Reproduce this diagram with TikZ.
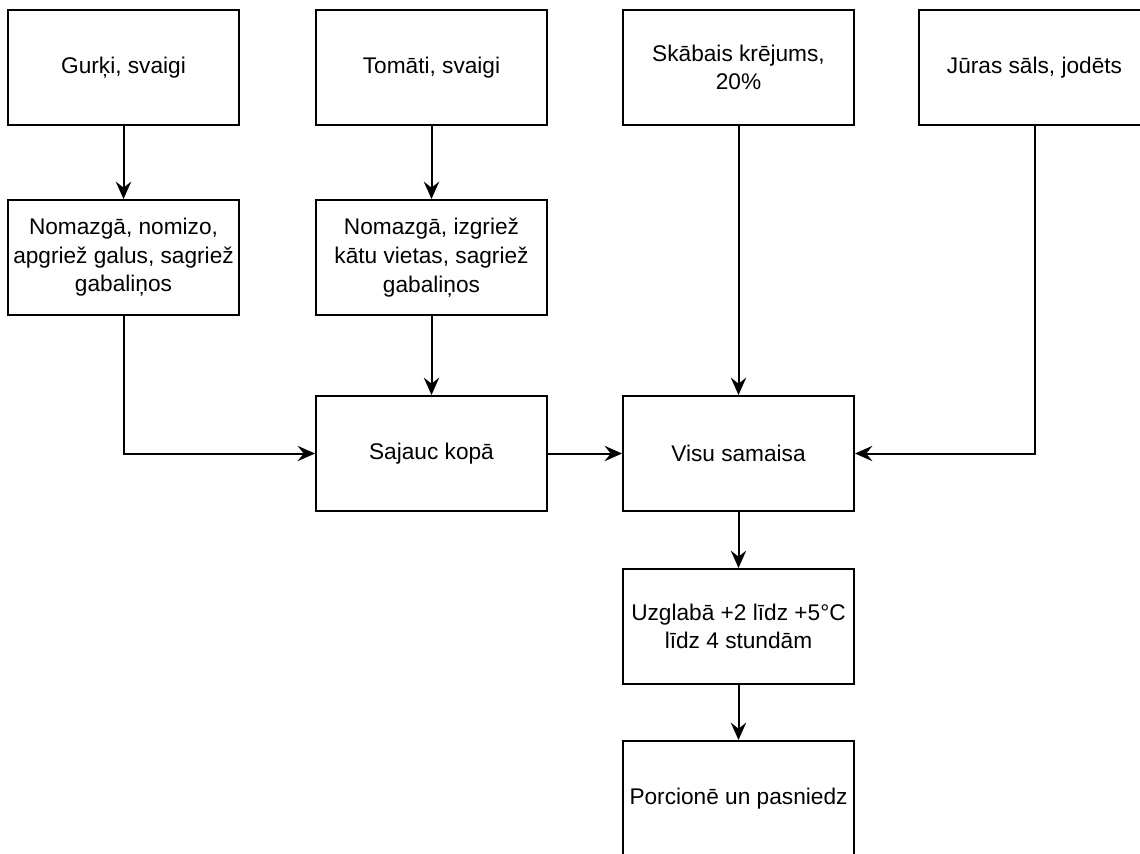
\documentclass[tikz,border=0pt]{standalone}
\usepackage{fontspec}
\setmainfont{Liberation Sans}
\usetikzlibrary{arrows.meta}
\begin{document}
\begin{tikzpicture}[x=0.75pt,y=-0.75pt,
  procbox/.style={draw=black, line width=1.5pt, fill=white, rectangle,
    minimum width=173.25pt, minimum height=86.25pt, inner sep=0pt,
    align=center, font=\fontsize{17}{21.5}\selectfont},
  flow/.style={draw=black, line width=1.5pt,
    -{Stealth[length=13pt, width=11.5pt, inset=4.5pt]}}]
  \useasboundingbox (0,0) rectangle (1140,854);
  \clip (0,0) rectangle (1140,854);
  \fill[white] (0,0) rectangle (1140,854);

  % raw ingredients
  \node[procbox] (gurki)  at (123.5,67.5)  {Gurķi, svaigi};
  \node[procbox] (tomati) at (431.5,67.5)  {Tomāti, svaigi};
  \node[procbox] (krej)   at (738.5,67.5)  {Skābais krējums,\\20\%};
  \node[procbox] (sals)   at (1034.5,67.5) {Jūras sāls, jodēts};

  % preparation
  \node[procbox] (gprep)  at (123.5,257.5) {Nomazgā, nomizo,\\apgriež galus, sagriež\\gabaliņos};
  \node[procbox] (tprep)  at (431.5,257.5) {Nomazgā, izgriež\\kātu vietas, sagriež\\gabaliņos};

  % mixing and serving
  \node[procbox] (sajauc) at (431.5,453.5) {Sajauc kopā};
  \node[procbox] (visu)   at (738.5,453.5) {Visu samaisa};
  \node[procbox] (uzgl)   at (738.5,626.5) {Uzglabā +2 līdz +5°C\\līdz 4 stundām};
  \node[procbox] (porc)   at (738.5,798.5) {Porcionē un pasniedz};

  % connectors
  \draw[flow] (gurki) -- (gprep);
  \draw[flow] (tomati) -- (tprep);
  \draw[flow] (gprep.south) |- (sajauc.west);
  \draw[flow] (tprep) -- (sajauc);
  \draw[flow] (krej) -- (visu);
  \draw[flow] (sajauc) -- (visu);
  \draw[flow] (sals.south) |- (visu.east);
  \draw[flow] (visu) -- (uzgl);
  \draw[flow] (uzgl) -- (porc);
\end{tikzpicture}
\end{document}
